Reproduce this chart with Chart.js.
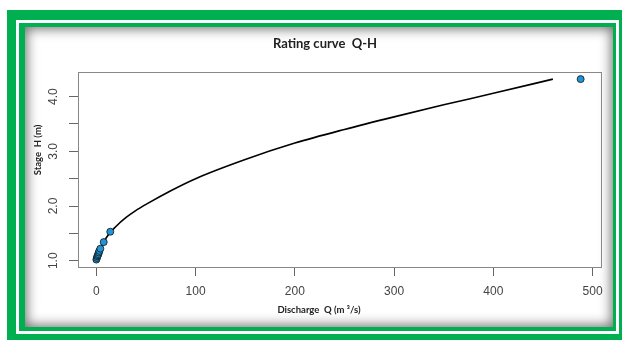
<!DOCTYPE html>
<html>
<head>
<meta charset="utf-8">
<script src="https://cdn.jsdelivr.net/npm/chart.js@4.4.1/dist/chart.umd.min.js"></script>
<style>
  body { margin: 0; width: 622px; height: 340px; background: #fff; position: relative; overflow: hidden; }
  .box { position: absolute; }
  #g1 { left: 7px; top: 10px; width: 615px; height: 330px; background: #00b050; }
  #w1 { left: 16px; top: 20px; width: 603px; height: 314px; background: #fff; }
  #g2 { left: 19px; top: 23px; width: 597px; height: 308px; background: #00b050; }
  #panel { left: 25px; top: 27px; width: 588px; height: 300px; background: #fff;
           box-shadow: inset 0 0 12px 2px rgba(0,0,0,0.55); }
  #myChart { position: absolute; left: 0; top: 0; }
</style>
</head>
<body>
<div class="box" id="g1"></div>
<div class="box" id="w1"></div>
<div class="box" id="g2"></div>
<div class="box" id="panel"></div>
<canvas id="myChart" width="622" height="340"></canvas>
<script>
// observed gaugings (discharge, stage)
const obsQ = [0, 0.5, 1, 1.5, 2, 2.5, 3, 4, 7.4, 14, 488];
const obsH = [1.02, 1.05, 1.08, 1.1, 1.12, 1.15, 1.18, 1.22, 1.34, 1.53, 4.32];

// fitted rating curve
const curveQ = [0, 2, 5, 10, 20, 30, 40, 50, 75, 100, 150, 200, 250, 300, 350, 400, 460];
const curveH = [1.0, 1.1, 1.23, 1.42, 1.63, 1.79, 1.92, 2.03, 2.28, 2.5, 2.85, 3.15, 3.4, 3.63, 3.85, 4.06, 4.32];

const xTicks = [0, 100, 200, 300, 400, 500];
const yTicks = [1, 1.5, 2, 2.5, 3, 3.5, 4];
const yLabelValues = [1, 2, 3, 4];
const yLabels = ['1.0', '2.0', '3.0', '4.0'];

const titleText = 'Rating curve  Q-H';
const xTitle = 'Discharge  Q (m \u00b3/s)';
const yTitle = 'Stage  H (m)';

// box around the plot area, rotated y labels and the titles
const decorPlugin = {
    id: 'decor',
    afterDraw(chart) {
        const c = chart.ctx;
        const a = chart.chartArea;
        const y = chart.scales.y;
        c.save();
        c.strokeStyle = '#888';
        c.lineWidth = 1;
        c.strokeRect(a.left + 0.5, a.top + 0.5, a.right - a.left, a.bottom - a.top);

        c.fillStyle = '#444';
        c.font = '12px "Liberation Sans", Arial, sans-serif';
        c.textAlign = 'center';
        c.textBaseline = 'middle';
        yLabelValues.forEach((v, i) => {
            c.save();
            c.translate(54, y.getPixelForValue(v));
            c.rotate(-Math.PI / 2);
            c.fillText(yLabels[i], 0, 0);
            c.restore();
        });

        c.fillStyle = '#222';
        c.font = 'bold 13px Lato, "Open Sans", sans-serif';
        c.fillText(titleText, 325, 44);

        c.font = 'bold 9.5px Lato, "Open Sans", sans-serif';
        c.fillText(xTitle, 319, 310);

        c.save();
        c.translate(38, 150);
        c.rotate(-Math.PI / 2);
        c.fillText(yTitle, 0, 0);
        c.restore();
        c.restore();
    }
};

const ctx = document.getElementById('myChart').getContext('2d');
let myChart = new Chart(ctx, {
    type: 'scatter',
    data: {
        datasets: [{
            label: 'Observed',
            data: obsQ.map((q, i) => ({ x: q, y: obsH[i] })),
            backgroundColor: '#1f95d8',
            borderColor: '#111',
            borderWidth: 0.8,
            pointRadius: 3.5
        }, {
            label: 'Rating curve',
            data: curveQ.map((q, i) => ({ x: q, y: curveH[i] })),
            showLine: true,
            borderColor: '#000',
            borderWidth: 1.6,
            pointRadius: 0,
            cubicInterpolationMode: 'monotone',
            fill: false
        }]
    },
    options: {
        responsive: false,
        animation: false,
        devicePixelRatio: 1,
        layout: { padding: { top: 72, right: 21, left: 0, bottom: 0 } },
        plugins: {
            legend: { display: false },
            tooltip: { enabled: false }
        },
        scales: {
            x: {
                type: 'linear',
                min: -18.5,
                max: 508.5,
                afterBuildTicks: s => { s.ticks = xTicks.map(v => ({ value: v })); },
                afterFit: s => { s.height = 73; },
                grid: { drawOnChartArea: false, tickLength: 9, tickColor: '#666', tickWidth: 1 },
                border: { display: false },
                ticks: {
                    padding: 8,
                    color: '#444',
                    font: { family: '"Liberation Sans", Arial, sans-serif', size: 12 },
                    maxRotation: 0,
                    autoSkip: false
                }
            },
            y: {
                type: 'linear',
                min: 0.885,
                max: 4.45,
                afterBuildTicks: s => { s.ticks = yTicks.map(v => ({ value: v })); },
                afterFit: s => { s.width = 78; },
                grid: { drawOnChartArea: false, tickLength: 9, tickColor: '#666', tickWidth: 1 },
                border: { display: false },
                ticks: { display: false, autoSkip: false }
            }
        }
    },
    plugins: [decorPlugin]
});
</script>
</body>
</html>
